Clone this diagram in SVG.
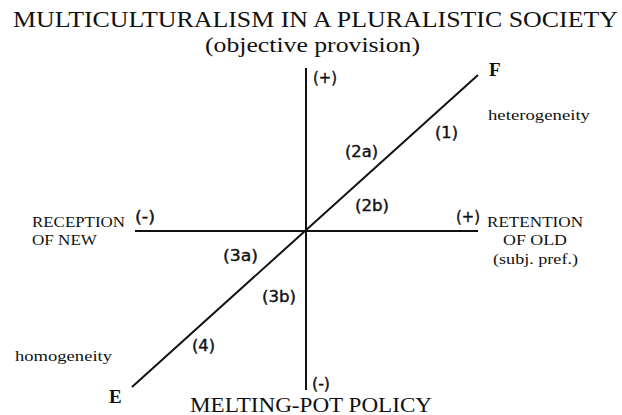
<svg xmlns="http://www.w3.org/2000/svg" width="622" height="415" viewBox="0 0 622 415">
<style>
.ser{font-family:"Liberation Serif","DejaVu Serif",serif;fill:#111}
.lab{font-family:"DejaVu Sans","Liberation Sans",sans-serif;font-size:15px;fill:#111;stroke:#111;stroke-width:0.4}
.ax{stroke:#111;stroke-width:2;fill:none}
</style>
<rect width="622" height="415" fill="#fff"/>
<text class="ser" x="13" y="27" font-size="23" textLength="605" lengthAdjust="spacingAndGlyphs">MULTICULTURALISM IN A PLURALISTIC SOCIETY</text>
<text class="ser" x="205" y="52" font-size="21" textLength="215" lengthAdjust="spacingAndGlyphs">(objective provision)</text>
<g id="connectors">
<line class="ax" x1="306" y1="68" x2="306" y2="390"/>
<line class="ax" x1="135" y1="231" x2="478" y2="231"/>
<line class="ax" x1="132" y1="387" x2="478" y2="75"/>
</g>
<g id="top-plus"><text class="lab" x="313" y="83" textLength="24" lengthAdjust="spacingAndGlyphs">(+)</text></g>
<g id="F"><text class="ser" x="489" y="76" font-size="19" font-weight="bold">F</text></g>
<g id="E"><text class="ser" x="109" y="403" font-size="19" font-weight="bold">E</text></g>
<g id="heterogeneity"><text class="ser" x="488" y="120" font-size="15" textLength="102" lengthAdjust="spacingAndGlyphs">heterogeneity</text></g>
<g id="homogeneity"><text class="ser" x="15" y="361" font-size="15" textLength="97" lengthAdjust="spacingAndGlyphs">homogeneity</text></g>
<g id="l1"><text class="lab" x="435" y="138" textLength="23" lengthAdjust="spacingAndGlyphs">(1)</text></g>
<g id="l2a"><text class="lab" x="345" y="157" textLength="33" lengthAdjust="spacingAndGlyphs">(2a)</text></g>
<g id="l2b"><text class="lab" x="355" y="211" textLength="34" lengthAdjust="spacingAndGlyphs">(2b)</text></g>
<g id="l3a"><text class="lab" x="223" y="261" textLength="35" lengthAdjust="spacingAndGlyphs">(3a)</text></g>
<g id="l3b"><text class="lab" x="262" y="302" textLength="34" lengthAdjust="spacingAndGlyphs">(3b)</text></g>
<g id="l4"><text class="lab" x="192" y="351" textLength="23" lengthAdjust="spacingAndGlyphs">(4)</text></g>
<g id="left-minus"><text class="lab" x="135" y="222" textLength="20" lengthAdjust="spacingAndGlyphs">(-)</text></g>
<g id="right-plus"><text class="lab" x="456" y="222" textLength="24" lengthAdjust="spacingAndGlyphs">(+)</text></g>
<g id="bottom-minus"><text class="lab" x="312" y="389" textLength="18" lengthAdjust="spacingAndGlyphs">(-)</text></g>
<g id="reception">
<text class="ser" x="32" y="227" font-size="14" textLength="93" lengthAdjust="spacingAndGlyphs">RECEPTION</text>
<text class="ser" x="32" y="245" font-size="14" textLength="65" lengthAdjust="spacingAndGlyphs">OF NEW</text>
</g>
<g id="retention">
<text class="ser" x="487" y="227" font-size="14" textLength="96" lengthAdjust="spacingAndGlyphs">RETENTION</text>
<text class="ser" x="503" y="245" font-size="14" textLength="64" lengthAdjust="spacingAndGlyphs">OF OLD</text>
<text class="ser" x="493" y="264" font-size="14" textLength="85" lengthAdjust="spacingAndGlyphs">(subj. pref.)</text>
</g>
<g id="melting"><text class="ser" x="190" y="412" font-size="20" textLength="242" lengthAdjust="spacingAndGlyphs">MELTING-POT POLICY</text></g>
</svg>
